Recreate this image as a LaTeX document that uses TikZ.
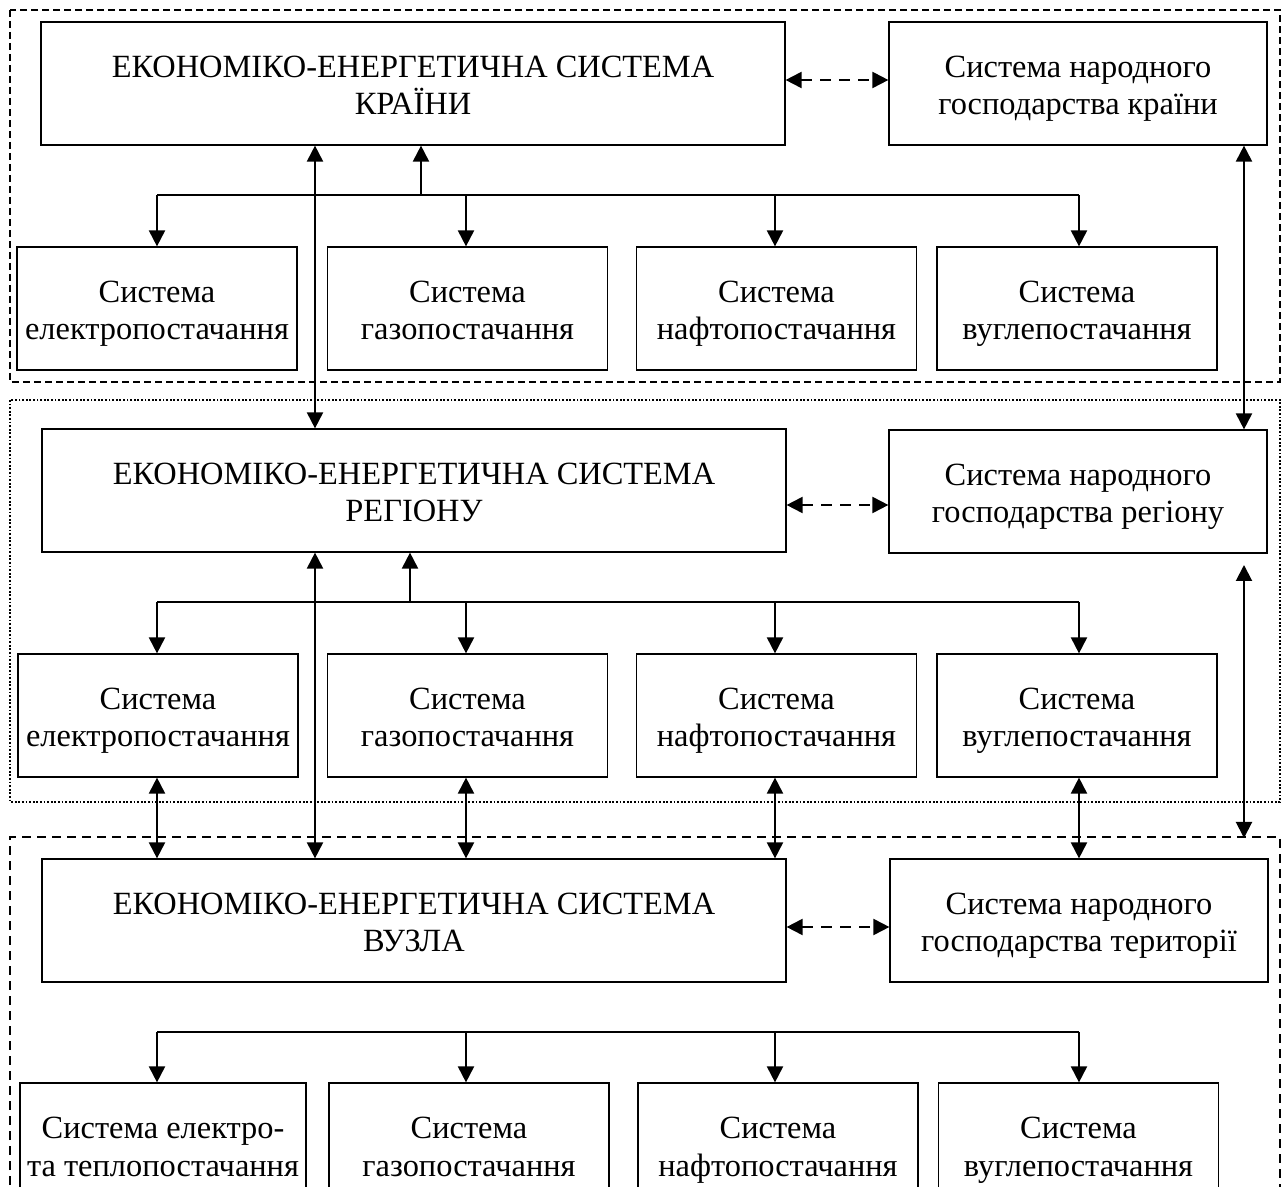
\documentclass[tikz,border=0pt]{standalone}
\usepackage{fontspec}
\setmainfont{Liberation Serif}
\usetikzlibrary{arrows.meta}
\newcommand\myTop{\rule{0pt}{17.5pt}}
\newcommand\myBot{\rule[-4.75pt]{0pt}{4.75pt}}
\newcommand\twolines[2]{\myTop#1\\#2\myBot}
\begin{document}
\begin{tikzpicture}[x=0.5pt,y=-0.5pt,
  box/.style={draw, line width=0.6pt, align=center, inner sep=0pt,
    font=\fontsize{16.2}{18.75}\selectfont},
  bigbox/.style={box, minimum width=372pt, minimum height=61.5pt},
  natbox/.style={box, minimum width=189pt, minimum height=61.5pt},
  subbox/.style={box, minimum width=140pt, minimum height=61.5pt},
  tip/.tip={Triangle[length=8pt,width=8pt]},
  arr/.style={line width=1pt, -tip},
  darr/.style={line width=1pt, tip-tip},
  dasharr/.style={line width=1pt, tip-tip, dash pattern=on 5.5pt off 4pt},
  bus/.style={line width=0.7pt},
  frameA/.style={line width=1pt, dash pattern=on 3.5pt off 2pt},
  frameB/.style={line width=0.9pt, dash pattern=on 0.9pt off 0.9pt},
  frameC/.style={line width=1pt, dash pattern=on 4.5pt off 3pt}
]
\clip (0,0) rectangle (1282,1187);
\fill[white] (0,0) rectangle (1282,1187);

% section frames
\draw[frameA] (10,10) rectangle (1280,382);
\draw[frameB] (10,400) rectangle (1280,802);
\draw[frameC] (10,1230) -- (10,837) -- (1280,837) -- (1280,1230);

% column coordinates
\coordinate (cA) at (157,0);
\coordinate (cB) at (466,0);
\coordinate (cC) at (775,0);
\coordinate (cD) at (1079,0);
\coordinate (L) at (315,0);
\coordinate (R) at (1244,0);

% level 1
\node[bigbox] (E1) at (413,83.5) {\twolines{ЕКОНОМІКО-ЕНЕРГЕТИЧНА СИСТЕМА}{КРАЇНИ}};
\node[natbox] (N1) at (1078,83.5) {\twolines{Система народного}{господарства країни}};
\node[subbox] (A1) at (157,308.5) {\twolines{Система}{електропостачання}};
\node[subbox] (B1) at (467.5,308.5) {\twolines{Система}{газопостачання}};
\node[subbox] (C1) at (776.5,308.5) {\twolines{Система}{нафтопостачання}};
\node[subbox] (D1) at (1077,308.5) {\twolines{Система}{вуглепостачання}};

% level 2
\node[bigbox] (E2) at (414,490.5) {\twolines{ЕКОНОМІКО-ЕНЕРГЕТИЧНА СИСТЕМА}{РЕГІОНУ}};
\node[natbox] (N2) at (1078,491.5) {\twolines{Система народного}{господарства регіону}};
\node[subbox] (A2) at (158,715.5) {\twolines{Система}{електропостачання}};
\node[subbox] (B2) at (467.5,715.5) {\twolines{Система}{газопостачання}};
\node[subbox] (C2) at (776.5,715.5) {\twolines{Система}{нафтопостачання}};
\node[subbox] (D2) at (1077,715.5) {\twolines{Система}{вуглепостачання}};

% level 3
\node[bigbox] (E3) at (414,920.5) {\twolines{ЕКОНОМІКО-ЕНЕРГЕТИЧНА СИСТЕМА}{ВУЗЛА}};
\node[natbox] (N3) at (1079,920.5) {\twolines{Система народного}{господарства території}};
\node[subbox, minimum width=143pt] (A3) at (163,1144.5) {\twolines{Система електро-}{та теплопостачання}};
\node[subbox] (B3) at (469,1144.5) {\twolines{Система}{газопостачання}};
\node[subbox] (C3) at (778,1144.5) {\twolines{Система}{нафтопостачання}};
\node[subbox] (D3) at (1078.5,1144.5) {\twolines{Система}{вуглепостачання}};

% dashed links to national economy
\coordinate (h1) at (0,80);
\coordinate (h2) at (0,505);
\coordinate (h3) at (0,927);
\draw[dasharr] (E1.east |- h1) -- (N1.west |- h1);
\draw[dasharr] (E2.east |- h2) -- (N2.west |- h2);
\draw[dasharr] (E3.east |- h3) -- (N3.west |- h3);

% level 1 distribution
\coordinate (b1) at (0,195);
\coordinate (u1) at (421,195);
\draw[bus] (cA |- b1) -- (cD |- b1);
\draw[arr] (u1) -- (u1 |- E1.south);
\draw[arr] (cA |- b1) -- (cA |- A1.north);
\draw[arr] (cB |- b1) -- (cB |- B1.north);
\draw[arr] (cC |- b1) -- (cC |- C1.north);
\draw[arr] (cD |- b1) -- (cD |- D1.north);

% level 2 distribution
\coordinate (b2) at (0,602);
\coordinate (u2) at (410,602);
\draw[bus] (cA |- b2) -- (cD |- b2);
\draw[arr] (u2) -- (u2 |- E2.south);
\draw[arr] (cA |- b2) -- (cA |- A2.north);
\draw[arr] (cB |- b2) -- (cB |- B2.north);
\draw[arr] (cC |- b2) -- (cC |- C2.north);
\draw[arr] (cD |- b2) -- (cD |- D2.north);

% level 3 distribution
\coordinate (b3) at (0,1032);
\draw[bus] (cA |- b3) -- (cD |- b3);
\draw[arr] (cA |- b3) -- (cA |- A3.north);
\draw[arr] (cB |- b3) -- (cB |- B3.north);
\draw[arr] (cC |- b3) -- (cC |- C3.north);
\draw[arr] (cD |- b3) -- (cD |- D3.north);

% inter-level links
\draw[darr] (L |- E1.south) -- (L |- E2.north);
\draw[darr] (R |- N1.south) -- (R |- N2.north);
\draw[darr] (L |- E2.south) -- (L |- E3.north);
\coordinate (r2a) at (1244,565);
\coordinate (r2b) at (1244,838);
\draw[darr] (r2a) -- (r2b);
\draw[darr] (cA |- A2.south) -- (cA |- E3.north);
\draw[darr] (cB |- B2.south) -- (cB |- E3.north);
\draw[darr] (cC |- C2.south) -- (cC |- E3.north);
\draw[darr] (cD |- D2.south) -- (cD |- N3.north);
\end{tikzpicture}
\end{document}
